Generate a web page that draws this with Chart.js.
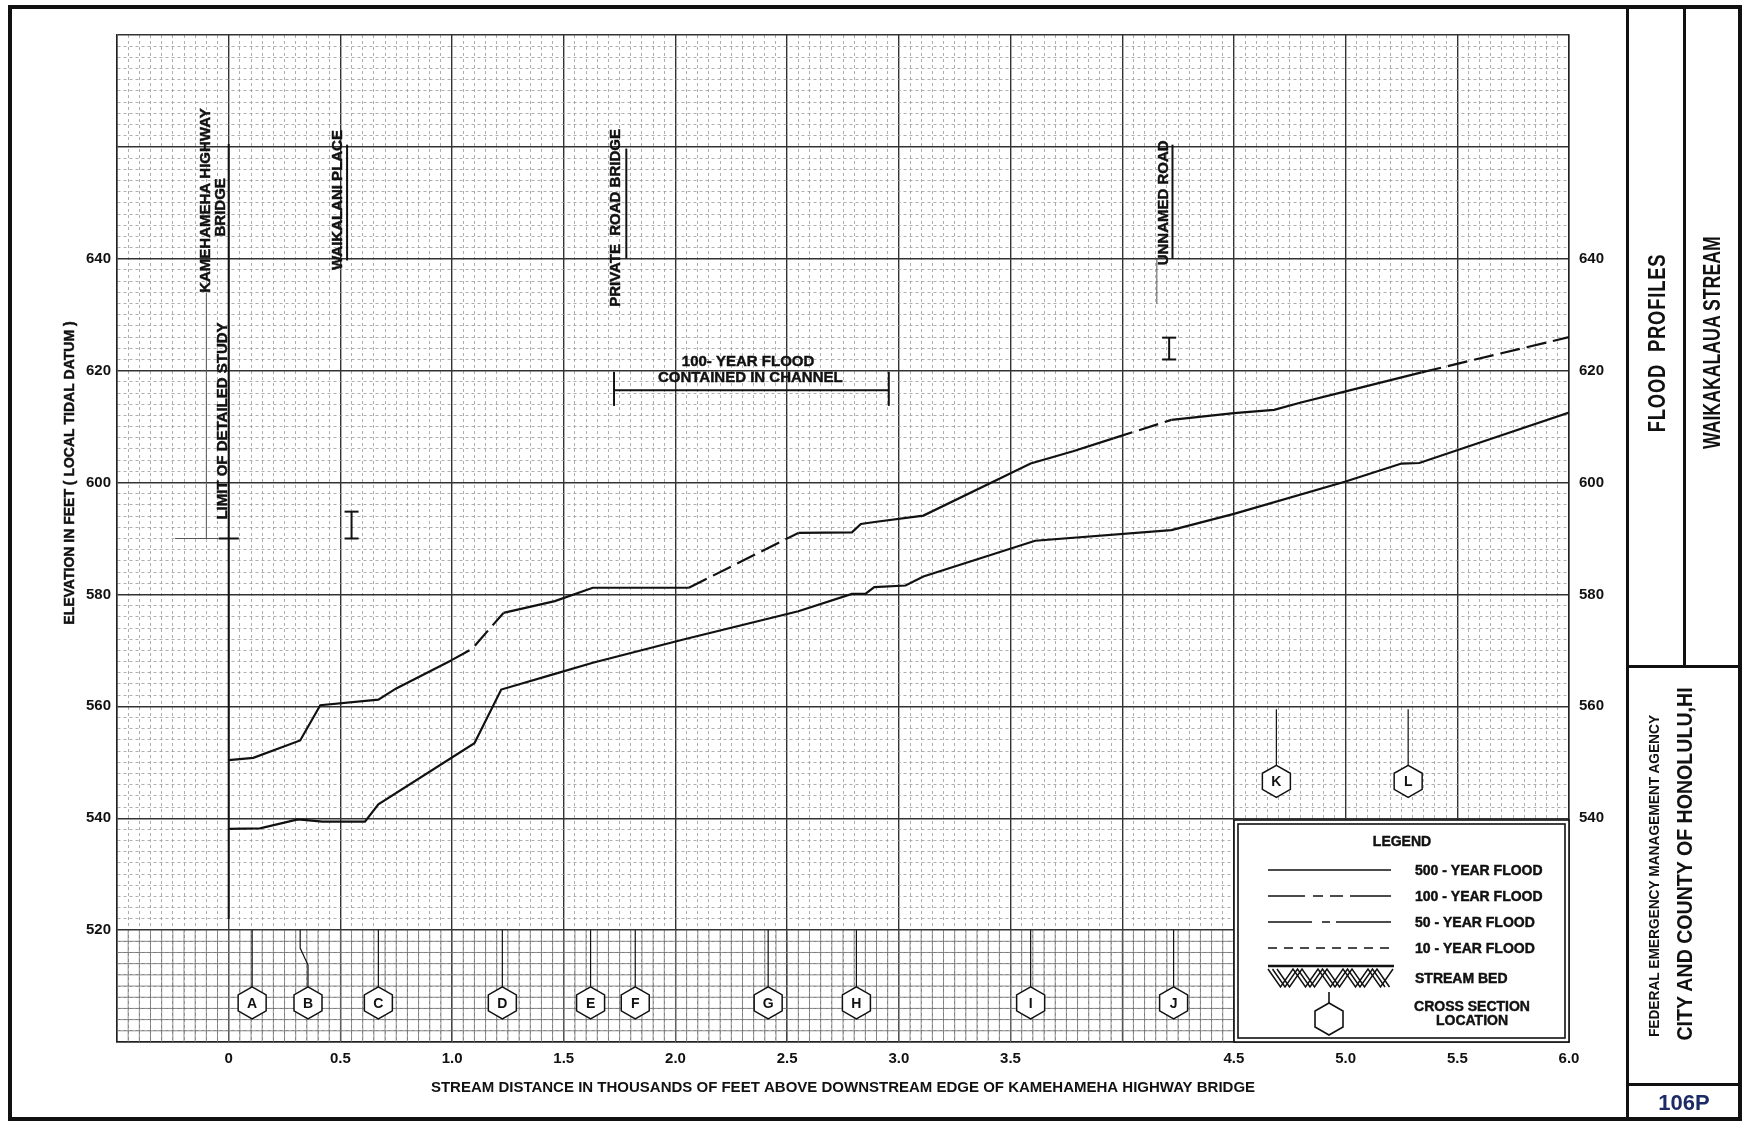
<!DOCTYPE html>
<html>
<head>
<meta charset="utf-8">
<title>Flood Profiles - Waikakalaua Stream</title>
<script src="https://cdn.jsdelivr.net/npm/chart.js@4.4.0/dist/chart.umd.min.js"></script>
<style>
body{margin:0;background:#fff;}
#page{position:relative;width:1744px;height:1126px;overflow:hidden;background:#fff;}
#graf{position:absolute;left:0;top:0;}
.ln{position:absolute;background:#111;}
.rot{position:absolute;white-space:nowrap;text-align:center;font-family:"Liberation Sans",Arial,sans-serif;font-weight:bold;color:#111;}
</style>
</head>
<body>
<div id="page">
  <canvas id="graf" width="1744" height="1126"></canvas>

  <!-- sheet frame and title block -->
  <div class="ln" style="left:8px;top:5px;width:1734px;height:4px"></div>
  <div class="ln" style="left:8px;top:1117px;width:1734px;height:4px"></div>
  <div class="ln" style="left:8px;top:5px;width:4px;height:1116px"></div>
  <div class="ln" style="left:1738px;top:5px;width:4px;height:1116px"></div>
  <div class="ln" style="left:1626px;top:5px;width:3px;height:1116px"></div>
  <div class="ln" style="left:1683px;top:5px;width:3px;height:662px"></div>
  <div class="ln" style="left:1626px;top:665px;width:116px;height:3px"></div>
  <div class="ln" style="left:1626px;top:1083px;width:116px;height:3px"></div>

  <div class="rot" style="left:1527px;top:328px;width:260px;height:30px;line-height:30px;font-size:23px;letter-spacing:1px;transform:rotate(-90deg) scaleX(0.8)">FLOOD&nbsp; PROFILES</div>
  <div class="rot" style="left:1582px;top:334px;width:260px;height:30px;line-height:30px;font-size:23px;transform:rotate(-90deg) scaleX(0.77)">WAIKAKALAUA STREAM</div>
  <div class="rot" style="left:1454px;top:866px;width:400px;height:20px;line-height:20px;font-size:14px;transform:rotate(-90deg) scaleX(0.98)">FEDERAL EMERGENCY MANAGEMENT AGENCY</div>
  <div class="rot" style="left:1485px;top:849px;width:400px;height:30px;line-height:30px;font-size:22px;transform:rotate(-90deg) scaleX(0.89)">CITY AND COUNTY OF HONOLULU,HI</div>
  <div class="rot" style="left:1629px;top:1088px;width:110px;height:30px;line-height:30px;font-size:22px;color:#1c2a66">106P</div>
</div>

<script>
var FONT = '"Liberation Sans", Arial, Helvetica, sans-serif';
var ink = '#111';

// axis ticks
var xTickValues = [0, 0.5, 1.0, 1.5, 2.0, 2.5, 3.0, 3.5, 4.5, 5.0, 5.5, 6.0];
var xTickLabels = ['0', '0.5', '1.0', '1.5', '2.0', '2.5', '3.0', '3.5', '4.5', '5.0', '5.5', '6.0'];
var leftTickValues = [520, 540, 560, 580, 600, 620, 640];
var rightTickValues = [540, 560, 580, 600, 620, 640];

// upper water surface profile (stream distance in thousands of feet, elevation in feet)
var upperDist = [0, 0.11, 0.32, 0.41, 0.67, 0.75, 1.0, 1.09, 1.23, 1.46, 1.63, 2.06, 2.55, 2.79, 2.83, 2.9, 3.11, 3.59, 3.78, 3.96, 4.22, 4.5, 4.68, 4.8, 5.0, 5.34, 6.0];
var upperElev = [550.4, 550.8, 553.9, 560.2, 561.2, 563.2, 568.3, 570.3, 576.7, 578.8, 581.2, 581.2, 591.0, 591.1, 592.6, 593.0, 594.1, 603.4, 605.6, 607.9, 611.2, 612.4, 613.0, 614.3, 616.3, 619.7, 626.0];
var upperDashed = [[1.0, 1.23], [2.06, 2.55], [3.96, 4.22], [5.34, 6.0]];

// lower water surface profile
var lowerDist = [0, 0.14, 0.31, 0.42, 0.61, 0.67, 1.1, 1.22, 1.46, 1.63, 2.04, 2.55, 2.79, 2.85, 2.89, 3.03, 3.11, 3.61, 4.22, 4.5, 5.0, 5.25, 5.33, 6.0];
var lowerElev = [538.1, 538.2, 539.8, 539.4, 539.4, 542.5, 553.4, 563.0, 565.8, 567.8, 572.0, 577.0, 580.1, 580.1, 581.3, 581.6, 583.2, 589.6, 591.5, 594.4, 600.2, 603.4, 603.5, 612.5];

// cross sections
var xsLetters = ['A', 'B', 'C', 'D', 'E', 'F', 'G', 'H', 'I', 'J', 'K', 'L'];
var xsDist = [0.105, 0.355, 0.67, 1.225, 1.62, 1.82, 2.415, 2.81, 3.59, 4.23, 4.69, 5.28];
var xsLeaderDist = [0.105, 0.32, 0.67, 1.225, 1.62, 1.82, 2.415, 2.81, 3.59, 4.23, 4.69, 5.28];
var xsElev = [507, 507, 507, 507, 507, 507, 507, 507, 507, 507, 546.6, 546.6];
var xsLeaderTop = [520, 520, 520, 520, 520, 520, 520, 520, 520, 520, 559.5, 559.5];

// road and bridge names written along the stream
var featureNames = ['KAMEHAMEHA HIGHWAY', 'BRIDGE', 'LIMIT OF DETAILED STUDY', 'WAIKALANI PLACE', 'PRIVATE  ROAD BRIDGE', 'UNNAMED ROAD'];
var featureDist = [-0.1, -0.035, -0.025, 0.488, 1.733, 4.185];
var featureElev = [650.4, 649.2, 611, 650.5, 647.3, 650];

var channelNote = ['100- YEAR FLOOD', 'CONTAINED IN CHANNEL'];
var legendLabels = ['500 - YEAR FLOOD', '100 - YEAR FLOOD', '50 - YEAR FLOOD', '10 - YEAR FLOOD', 'STREAM BED'];
var xTitle = 'STREAM DISTANCE IN THOUSANDS OF FEET ABOVE DOWNSTREAM EDGE OF KAMEHAMEHA HIGHWAY BRIDGE';
var yTitle = 'ELEVATION IN FEET ( LOCAL TIDAL DATUM )';

function toPoints(xs, ys) {
    var pts = [];
    for (var i = 0; i < xs.length; i++) pts.push({x: xs[i], y: ys[i]});
    return pts;
}

function inDashed(a, b) {
    for (var i = 0; i < upperDashed.length; i++) {
        if (a >= upperDashed[i][0] - 1e-9 && b <= upperDashed[i][1] + 1e-9) return true;
    }
    return false;
}

function findIdx(list, v) {
    for (var i = 0; i < list.length; i++) if (Math.abs(list[i] - v) < 1e-6) return i;
    return -1;
}

function isMajorX(v) { return Math.abs(v * 2 - Math.round(v * 2)) < 1e-6; }
function isMajorY(v) { return Math.abs(v / 20 - Math.round(v / 20)) < 1e-6; }

// filled text with a hairline stroke, so it reads as heavy as the printed lettering
function inkText(ctx, text, x, y) {
    ctx.lineWidth = 0.45;
    ctx.strokeStyle = ink;
    ctx.fillText(text, x, y);
    ctx.strokeText(text, x, y);
}

function vText(ctx, text, x, y, font) {
    ctx.save();
    ctx.translate(x, y);
    ctx.rotate(-Math.PI / 2);
    ctx.font = font;
    ctx.textAlign = 'center';
    ctx.textBaseline = 'middle';
    inkText(ctx, text, 0, 0);
    ctx.restore();
}

function seg(ctx, x1, y1, x2, y2) {
    ctx.beginPath();
    ctx.moveTo(x1, y1);
    ctx.lineTo(x2, y2);
    ctx.stroke();
}

function hexagon(ctx, cx, cy, w, h) {
    ctx.beginPath();
    ctx.moveTo(cx, cy - h / 2);
    ctx.lineTo(cx + w / 2, cy - h / 4);
    ctx.lineTo(cx + w / 2, cy + h / 4);
    ctx.lineTo(cx, cy + h / 2);
    ctx.lineTo(cx - w / 2, cy + h / 4);
    ctx.lineTo(cx - w / 2, cy - h / 4);
    ctx.closePath();
}

function iBar(ctx, x, y1, y2) {
    seg(ctx, x, y1, x, y2);
    seg(ctx, x - 7, y1, x + 7, y1);
    seg(ctx, x - 7, y2, x + 7, y2);
}

function drawLegend(ctx, ca) {
    var L = ca.right - 335, T = ca.bottom - 222;
    ctx.save();
    ctx.fillStyle = '#fff';
    ctx.fillRect(L, T, 335, 222);
    ctx.strokeStyle = ink;
    ctx.lineWidth = 1.6;
    ctx.strokeRect(L, T, 335, 222);
    ctx.strokeRect(L + 4, T + 4, 327, 214);

    ctx.fillStyle = ink;
    ctx.font = 'bold 14px ' + FONT;
    ctx.textAlign = 'center';
    ctx.textBaseline = 'middle';
    inkText(ctx, 'LEGEND', L + 168, T + 22);

    var x0 = L + 34, x1 = L + 157;
    var dashes = [[], [37, 8, 10, 7, 13, 7, 41], [44, 10, 8, 6, 55], [9, 7]];
    ctx.lineWidth = 1.6;
    for (var i = 0; i < 4; i++) {
        ctx.setLineDash(dashes[i]);
        seg(ctx, x0, T + 50 + i * 26, x1, T + 50 + i * 26);
    }
    ctx.setLineDash([]);

    // stream bed symbol
    ctx.lineWidth = 2.6;
    seg(ctx, x0, T + 146, x1 + 3, T + 146);
    ctx.lineWidth = 1.5;
    for (var o = 0; o < 3; o++) {
        ctx.beginPath();
        var up = true;
        for (var xx = x0 + o * 4.5; xx <= x1 + 4; xx += 12.5) {
            ctx.lineTo(xx, up ? T + 149 : T + 167);
            up = !up;
        }
        ctx.stroke();
    }

    // cross section symbol
    ctx.lineWidth = 1.6;
    seg(ctx, L + 95, T + 172, L + 95, T + 183);
    hexagon(ctx, L + 95, T + 199, 28, 32);
    ctx.stroke();

    ctx.textAlign = 'left';
    for (var j = 0; j < legendLabels.length; j++) {
        inkText(ctx, legendLabels[j], L + 181, T + 51 + j * 26 + (j == 4 ? 4 : 0));
    }
    ctx.textAlign = 'center';
    inkText(ctx, 'CROSS SECTION', L + 238, T + 187);
    inkText(ctx, 'LOCATION', L + 238, T + 201);
    ctx.restore();
}

var profileDrawings = {
    id: 'profileDrawings',
    beforeDatasetsDraw: function(chart) {
        // the printed sheet is heavier in the band below elevation 520
        var ctx = chart.ctx, xs = chart.scales.x, ys = chart.scales.y, ca = chart.chartArea;
        var yTop = ys.getPixelForValue(520), yBot = ys.getPixelForValue(500);
        ctx.save();
        ctx.strokeStyle = '#6e6e6e';
        ctx.lineWidth = 0.8;
        for (var v = 502; v < 520; v += 2) {
            var y = ys.getPixelForValue(v);
            seg(ctx, ca.left, y, ca.right, y);
        }
        for (var i = -9; i < 120; i++) {
            var x = xs.getPixelForValue(i / 20);
            seg(ctx, x, yTop, x, yBot);
        }
        ctx.restore();
    },
    afterDatasetsDraw: function(chart) {
        var ctx = chart.ctx, xs = chart.scales.x, ys = chart.scales.y, ca = chart.chartArea;
        var px = function(d) { return xs.getPixelForValue(d); };
        var py = function(e) { return ys.getPixelForValue(e); };

        ctx.save();
        ctx.strokeStyle = ink;
        ctx.fillStyle = ink;
        ctx.lineCap = 'butt';

        // feature names
        for (var i = 0; i < featureNames.length; i++) {
            vText(ctx, featureNames[i], px(featureDist[i]), py(featureElev[i]), 'bold 15px ' + FONT);
        }

        // structure marks
        ctx.strokeStyle = ink;
        ctx.lineWidth = 2;
        seg(ctx, px(0), py(660.5), px(0), py(522));
        seg(ctx, px(-0.045), py(590), px(0.045), py(590));
        seg(ctx, px(0.53), py(660.4), px(0.53), py(639.7));
        seg(ctx, px(1.78), py(659.7), px(1.78), py(640));
        seg(ctx, px(4.225), py(660.4), px(4.225), py(640));
        ctx.lineWidth = 1;
        ctx.strokeStyle = '#555';
        seg(ctx, px(-0.1), py(634), px(-0.1), py(590));
        seg(ctx, px(-0.24), py(590), px(-0.045), py(590));
        seg(ctx, px(4.155), py(640), px(4.155), py(632));
        ctx.strokeStyle = ink;
        ctx.lineWidth = 2;
        iBar(ctx, px(0.55), py(590), py(594.8));
        iBar(ctx, px(4.21), py(622), py(625.9));

        // 100-year flood contained in channel
        seg(ctx, px(1.725), py(616.5), px(2.955), py(616.5));
        seg(ctx, px(1.725), py(613.7), px(1.725), py(619.8));
        seg(ctx, px(2.955), py(613.7), px(2.955), py(619.8));
        ctx.font = 'bold 15px ' + FONT;
        ctx.textAlign = 'center';
        ctx.textBaseline = 'middle';
        inkText(ctx, channelNote[0], px(2.325), py(621.6));
        inkText(ctx, channelNote[1], px(2.335), py(618.8));

        // cross section hexagons
        ctx.font = 'bold 14px ' + FONT;
        for (var k = 0; k < xsLetters.length; k++) {
            var cx = px(xsDist[k]), cy = py(xsElev[k]);
            var lx = px(xsLeaderDist[k]), top = py(xsLeaderTop[k]);
            ctx.strokeStyle = ink;
            ctx.lineWidth = 1.2;
            ctx.beginPath();
            ctx.moveTo(lx, top);
            if (lx != cx) {
                ctx.lineTo(lx, top + 18);
                ctx.lineTo(cx, top + 35);
            }
            ctx.lineTo(cx, cy - 16);
            ctx.stroke();
            ctx.fillStyle = '#fff';
            ctx.lineWidth = 1.5;
            hexagon(ctx, cx, cy, 28, 32);
            ctx.fill();
            ctx.stroke();
            ctx.fillStyle = ink;
            ctx.fillText(xsLetters[k], cx, cy + 1);
        }

        drawLegend(ctx, ca);
        ctx.restore();
    },
    afterDraw: function(chart) {
        var ctx = chart.ctx;
        ctx.save();
        ctx.fillStyle = ink;
        vText(ctx, yTitle, 70, 473, 'bold 14px ' + FONT);
        ctx.restore();
    }
};

var tickFont = {family: FONT, size: 15, weight: 'bold'};

var graf = new Chart(document.getElementById('graf'), {
    type: 'line',
    data: {
        datasets: [{
            label: 'Upper profile',
            data: toPoints(upperDist, upperElev),
            borderColor: ink,
            borderWidth: 2.2,
            pointRadius: 0,
            tension: 0,
            fill: false,
            segment: {
                borderDash: function(c) { return inDashed(c.p0.parsed.x, c.p1.parsed.x) ? [20, 7] : undefined; }
            }
        }, {
            label: 'Lower profile',
            data: toPoints(lowerDist, lowerElev),
            borderColor: ink,
            borderWidth: 2.2,
            pointRadius: 0,
            tension: 0,
            fill: false
        }]
    },
    options: {
        responsive: false,
        animation: false,
        events: [],
        layout: {padding: {top: 35, left: 0, right: 0, bottom: 0}, autoPadding: false},
        plugins: {legend: {display: false}, tooltip: {enabled: false}},
        scales: {
            x: {
                type: 'linear',
                min: -0.5,
                max: 6.0,
                afterBuildTicks: function(ax) {
                    var t = [];
                    for (var i = -10; i <= 120; i++) t.push({value: i / 20});
                    ax.ticks = t;
                },
                afterFit: function(ax) { ax.height = 84; },
                ticks: {
                    autoSkip: false, maxRotation: 0, minRotation: 0, padding: 8,
                    color: ink, font: tickFont,
                    callback: function(v) { var k = findIdx(xTickValues, v); return k < 0 ? '' : xTickLabels[k]; }
                },
                grid: {
                    drawTicks: false,
                    color: function(c) { return c.tick && isMajorX(c.tick.value) ? '#333' : '#9a9a9a'; },
                    lineWidth: function(c) { return c.tick && isMajorX(c.tick.value) ? 1.4 : 0.8; }
                },
                border: {
                    display: true, color: '#222', width: 1.5,
                    dash: function(c) { return c.tick && !isMajorX(c.tick.value) ? [3, 3] : []; }
                },
                title: {display: true, text: xTitle, color: ink, font: {family: FONT, size: 15, weight: 'bold'}, padding: {top: 29, bottom: 29}}
            },
            y: {
                type: 'linear',
                position: 'left',
                min: 500,
                max: 680,
                afterBuildTicks: function(ax) {
                    var t = [];
                    for (var v = 500; v <= 680; v += 2) t.push({value: v});
                    ax.ticks = t;
                },
                afterFit: function(ax) { ax.width = 117; },
                ticks: {
                    autoSkip: false, padding: 6, color: ink, font: tickFont,
                    callback: function(v) { return findIdx(leftTickValues, v) < 0 ? '' : String(v); }
                },
                grid: {
                    drawTicks: false,
                    color: function(c) { return c.tick && isMajorY(c.tick.value) ? '#333' : '#9a9a9a'; },
                    lineWidth: function(c) { return c.tick && isMajorY(c.tick.value) ? 1.4 : 0.8; }
                },
                border: {
                    display: true, color: '#222', width: 1.5,
                    dash: function(c) { return c.tick && !isMajorY(c.tick.value) ? [3, 3] : []; }
                }
            },
            y2: {
                type: 'linear',
                position: 'right',
                min: 500,
                max: 680,
                afterBuildTicks: function(ax) {
                    ax.ticks = rightTickValues.map(function(v) { return {value: v}; });
                },
                afterFit: function(ax) { ax.width = 175; },
                ticks: {autoSkip: false, padding: 10, color: ink, font: tickFont},
                grid: {display: false, drawTicks: false},
                border: {display: true, color: '#222', width: 1.5}
            }
        }
    },
    plugins: [profileDrawings]
});
</script>
</body>
</html>
